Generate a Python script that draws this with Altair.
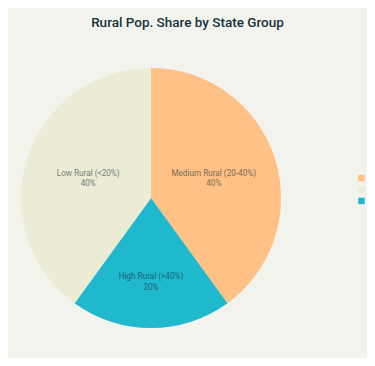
import altair as alt
import pandas as pd

groups = ["Medium Rural (20-40%)", "High Rural (>40%)", "Low Rural (<20%)"]
shares = [40, 20, 40]
legend_order = ["Medium Rural (20-40%)", "Low Rural (<20%)", "High Rural (>40%)"]
colors = ["#FFC185", "#ECEBD5", "#1FB8CD"]

df = pd.DataFrame({"group": groups, "share": shares, "order": [0, 1, 2]})

cx, cy, r = 143, 190, 130

pie = alt.Chart(df).mark_arc(radius=r).encode(
    theta=alt.Theta("share:Q", stack=True),
    order=alt.Order("order:Q"),
    x=alt.value(cx),
    y=alt.value(cy),
    color=alt.Color(
        "group:N",
        scale=alt.Scale(domain=legend_order, range=colors),
        legend=alt.Legend(
            title=None,
            orient="none",
            legendX=349,
            legendY=165.5,
            symbolType="square",
            symbolSize=42,
            symbolStrokeWidth=0,
            labelFontSize=9,
            labelFont="Roboto",
            labelColor="#13343B",
            rowPadding=1.5,
        ),
    ),
)

labels = (
    alt.Chart(df)
    .transform_joinaggregate(total="sum(share)")
    .transform_window(cum="sum(share)", sort=[alt.SortField("order")])
    .transform_calculate(
        ang="2 * PI * (datum.cum - datum.share / 2) / datum.total",
        label="[datum.group, datum.share + '%']",
        rad="datum.group == 'High Rural (>40%)' ? 83 : 66",
    )
    .mark_text(
        font="Roboto",
        fontSize=8.2,
        lineHeight=10.5,
        fill="#13343B",
        opacity=0.6,
        align="center",
        baseline="middle",
        dy=-4,
    )
    .encode(
        theta=alt.Theta("ang:Q", scale=None),
        radius=alt.Radius("rad:Q", scale=None),
        x=alt.value(cx),
        y=alt.value(cy),
        text=alt.Text("label:N"),
    )
)

chart = (
    alt.layer(pie, labels)
    .resolve_scale(theta="independent")
    .properties(
        width=359,
        height=350,
        autosize=alt.AutoSizeParams(type="none"),
        padding=0,
        background="#F3F3EE",
        title=alt.Title(
            "Rural Pop. Share by State Group",
            font="Roboto",
            fontSize=13.5,
            fontWeight=500,
            color="#13343B",
            anchor="middle",
            offset=-21,
        ),
    )
    .configure_view(stroke=None)
)

chart.save("out.html", embed_options={"renderer": "svg", "actions": False})
